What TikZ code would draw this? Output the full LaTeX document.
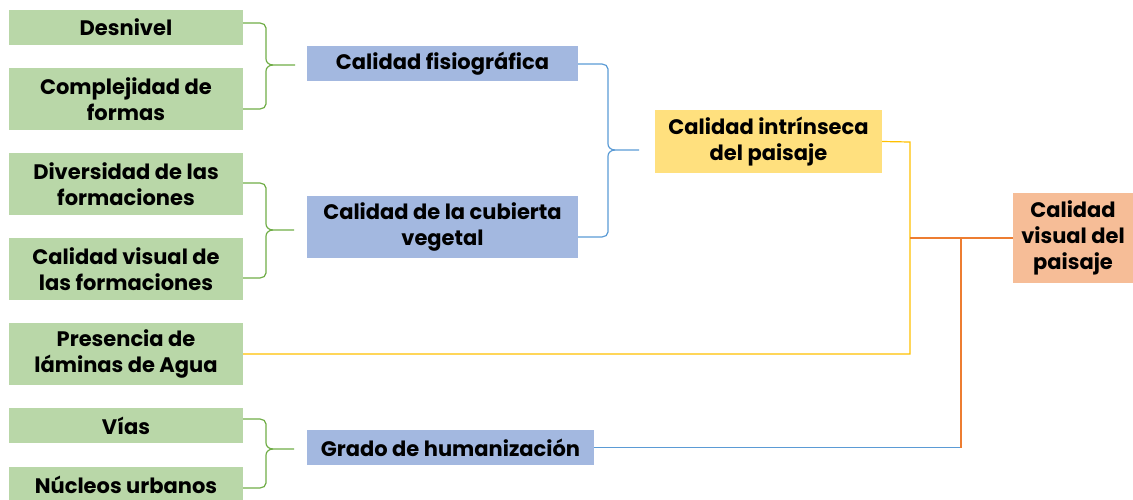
\documentclass[tikz,border=0pt]{standalone}
\usepackage{fontspec}
\setmainfont{Poppins}
\definecolor{gfill}{HTML}{B9D7A8}
\definecolor{bfill}{HTML}{A3B8E0}
\definecolor{yfill}{HTML}{FFE07E}
\definecolor{ofill}{HTML}{F6BD97}
\definecolor{gline}{HTML}{70AD47}
\definecolor{bline}{HTML}{5B9BD5}
\definecolor{yline}{HTML}{FFC000}
\definecolor{oline}{HTML}{ED7D31}
\tikzset{
  box/.style={inner sep=0pt, align=center, font=\fontsize{21}{26}\selectfont\bfseries, text=black},
  gbox/.style={box, fill=gfill, minimum width=234pt},
  bbox/.style={box, fill=bfill},
  ybox/.style={box, fill=yfill},
  obox/.style={box, fill=ofill},
  conn/.style={line width=1.2pt},
}
\newcommand{\mybrace}[7]{% color, x0, xbar, xtip, ytop, ymid, ybot
  \draw[conn,#1] (#2,#5) -- ({#3-6},#5) to[out=0,in=90] (#3,{#5+5}) -- (#3,{#6-6})
     to[out=-90,in=180] ({#3+7},#6) -- (#4,#6);
  \draw[conn,#1] (#2,#7) -- ({#3-6},#7) to[out=0,in=-90] (#3,{#7-5}) -- (#3,{#6+6})
     to[out=90,in=180] ({#3+7},#6);
}
\begin{document}
\begin{tikzpicture}[x=1pt,y=-1pt]
\useasboundingbox (0,0) rectangle (1133,499);
% left green boxes
\node[gbox, minimum height=35pt] (desn) at (126,27.5) {Desnivel};
\node[gbox, minimum height=62pt] (comp) at (126,99) {Complejidad de\\formas};
\node[gbox, minimum height=62pt] (dive) at (126,184) {Diversidad de las\\formaciones};
\node[gbox, minimum height=62pt] (cvis) at (126,269) {Calidad visual de\\las formaciones};
\node[gbox, minimum height=62pt] (pres) at (126,354) {Presencia de\\láminas de Agua};
\node[gbox, minimum height=35pt] (vias) at (126,425.5) {Vías};
\node[gbox, minimum height=35pt] (nucl) at (126,484.5) {Núcleos urbanos};
% blue boxes
\node[bbox, minimum width=271pt, minimum height=35pt] (fisi) at (442.5,63.5) {Calidad fisiográfica};
\node[bbox, minimum width=271pt, minimum height=62pt] (cubi) at (442.5,227) {Calidad de la cubierta\\vegetal};
\node[bbox, minimum width=287pt, minimum height=35pt] (grad) at (450.5,447.5) {Grado de humanización};
% yellow
\node[ybox, minimum width=227pt, minimum height=63pt] (intr) at (768.5,141.5) {Calidad intrínseca\\del paisaje};
% orange
\node[obox, minimum width=120pt, minimum height=90pt] (cvp) at (1073,238) {Calidad\\visual del\\paisaje};
% braces
\mybrace{gline}{243}{266}{295}{23}{65}{109}
\mybrace{gline}{243}{266}{294}{183}{230}{278}
\mybrace{gline}{243}{266}{294}{419}{449}{488}
\mybrace{bline}{578}{608}{639}{64}{150}{237}
% connectors
\coordinate (j1) at (910,142);
\coordinate (j2) at (910,238);
\coordinate (j3) at (961,238);
\draw[conn,yline] (intr.east) -- (j1) |- (pres.east);
\draw[conn,oline] (j2) -- (cvp.west);
\draw[conn,bline] (grad.east) -| (j3);
\draw[conn,oline] (j3) -- (961,447.5);
\end{tikzpicture}
\end{document}
